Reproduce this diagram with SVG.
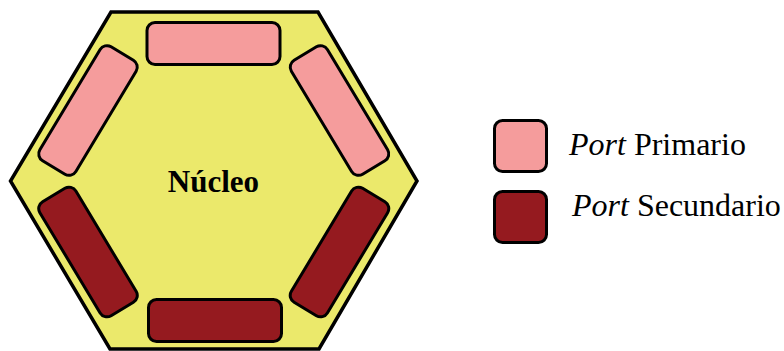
<svg xmlns="http://www.w3.org/2000/svg" width="784" height="351" viewBox="0 0 784 351">
<style>
.hex{fill:#EBE96B;stroke:#000;stroke-width:3.5;stroke-linejoin:miter}
.pri{fill:#F59C9C;stroke:#000;stroke-width:3}
.sec{fill:#951A1F;stroke:#000;stroke-width:3}
text{font-family:"Liberation Serif","DejaVu Serif",serif;fill:#000}
.lbl{font-size:32px}
.core{font-size:31px;font-weight:bold}
</style>
<g id="nucleo">
<polygon class="hex" points="111,12 318,12 417,181 319,349 110,349 10.5,181"/>
<text class="core" x="213.5" y="192" text-anchor="middle" font-family="Liberation Serif, serif">Núcleo</text>
</g>
<g id="port-top">
<rect class="pri" x="147" y="22.5" width="133" height="42" rx="8"/>
</g>
<g id="port-upper-left">
<rect class="pri" x="21.5" y="89.5" width="133" height="42" rx="8" transform="rotate(-59 88 110.5)"/>
</g>
<g id="port-upper-right">
<rect class="pri" x="273" y="89.5" width="133" height="42" rx="8" transform="rotate(59 339.5 110.5)"/>
</g>
<g id="port-lower-left">
<rect class="sec" x="21.5" y="231" width="133" height="42" rx="8" transform="rotate(59 88 252)"/>
</g>
<g id="port-lower-right">
<rect class="sec" x="273" y="231" width="133" height="42" rx="8" transform="rotate(-59 339.5 252)"/>
</g>
<g id="port-bottom">
<rect class="sec" x="148.5" y="299.5" width="133" height="42" rx="8"/>
</g>
<g id="legend-primario">
<rect class="pri" x="494.5" y="120.5" width="52" height="51" rx="8"/>
<text class="lbl" x="569" y="155" font-family="Liberation Serif, serif"><tspan font-style="italic">Port</tspan> Primario</text>
</g>
<g id="legend-secundario">
<rect class="sec" x="494.5" y="191.5" width="52" height="51" rx="8"/>
<text class="lbl" x="572" y="216" font-family="Liberation Serif, serif"><tspan font-style="italic">Port</tspan> Secundario</text>
</g>
<g id="connectors"/>
</svg>
